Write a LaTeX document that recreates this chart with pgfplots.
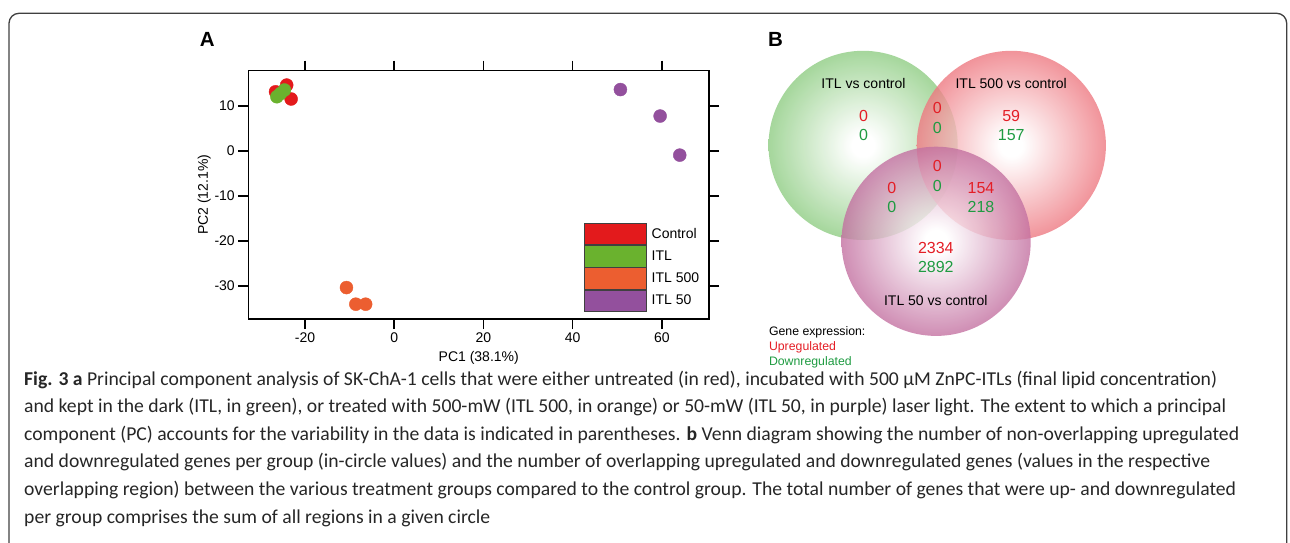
\documentclass[border=0pt]{standalone}
\usepackage{pgfplots}
\pgfplotsset{compat=1.18}
\usepackage{fontspec}
\setmainfont{Liberation Sans}
\newfontfamily\capfont{Carlito}

\definecolor{cctrl}{RGB}{227,26,28}
\definecolor{citl}{RGB}{106,178,46}
\definecolor{cfive}{RGB}{236,94,48}
\definecolor{cfifty}{RGB}{147,80,157}
\definecolor{vgreen}{RGB}{110,190,95}
\definecolor{vred}{RGB}{230,60,72}
\definecolor{vpurple}{RGB}{168,48,118}
\definecolor{txtred}{RGB}{228,30,38}
\definecolor{txtgreen}{RGB}{30,155,65}

\pgfdeclareradialshading{vgsh}{\pgfpoint{0bp}{0bp}}{color(0bp)=(white); color(3bp)=(white); color(35bp)=(vgreen); color(50bp)=(vgreen)}
\pgfdeclareradialshading{vrsh}{\pgfpoint{0bp}{0bp}}{color(0bp)=(white); color(3bp)=(white); color(35bp)=(vred); color(50bp)=(vred)}
\pgfdeclareradialshading{vpsh}{\pgfpoint{0bp}{0bp}}{color(0bp)=(white); color(3bp)=(white); color(35bp)=(vpurple); color(50bp)=(vpurple)}

\begin{document}
\begin{tikzpicture}
\useasboundingbox (0pt,0pt) rectangle (1290pt,542pt);

% frame
\draw[line width=1.3pt, black!75, rounded corners=10pt] (9pt,-20pt) -- (9pt,528.7pt) -- (1286.7pt,528.7pt) -- (1286.7pt,-20pt);

% panel A
\begin{axis}[
  at={(248.3pt,223pt)}, anchor=south west,
  scale only axis, width=460.9pt, height=248.3pt,
  xmin=-32.7, xmax=70.6, ymin=-37.4, ymax=17.9,
  xtick={-20,0,20,40,60}, ytick={-30,-20,-10,0,10},
  tick align=outside, major tick length=10pt,
  every tick/.style={black, line width=1.5pt},
  axis line style={line width=1.6pt},
  tick label style={font=\fontsize{14}{16}\selectfont},
  /pgf/number format/assume math mode=true,
  xlabel={PC1 (38.1\%)}, ylabel={PC2 (12.1\%)},
  label style={font=\fontsize{14}{16}\selectfont},
  xlabel style={at={(axis description cs:0.5,-0.158)}, anchor=center},
  ylabel style={at={(axis description cs:-0.0955,0.5)}, anchor=center},
  legend style={at={(axis description cs:0.728,0.0294)}, anchor=south west,
    draw=none, fill=none, inner sep=0pt, outer sep=0pt, row sep=0pt, column sep=5pt,
    font=\fontsize{14}{16}\selectfont, nodes={inner sep=0pt}},
  legend cell align=left,
]
\addplot[only marks, mark=*, mark size=6.5pt, color=cctrl,
  legend image code/.code={\draw[draw=black!75, line width=0.8pt, fill=cctrl] (0pt,-10.67pt) rectangle (62pt,10.67pt);}]
  coordinates {(-24.1,14.7) (-23.1,11.6) (-26.6,13.2)};
\addlegendentry{Control}
\addplot[only marks, mark=*, mark size=6.5pt, color=citl,
  legend image code/.code={\draw[draw=black!75, line width=0.8pt, fill=citl] (0pt,-10.67pt) rectangle (62pt,10.67pt);}]
  coordinates {(-26.3,12.1) (-25.5,12.8) (-24.6,13.6)};
\addlegendentry{ITL}
\addplot[only marks, mark=*, mark size=6.5pt, color=cfive,
  legend image code/.code={\draw[draw=black!75, line width=0.8pt, fill=cfive] (0pt,-10.67pt) rectangle (62pt,10.67pt);}]
  coordinates {(-10.7,-30.4) (-8.6,-34.1) (-6.4,-34.1)};
\addlegendentry{ITL 500}
\addplot[only marks, mark=*, mark size=6.5pt, color=cfifty,
  legend image code/.code={\draw[draw=black!75, line width=0.8pt, fill=cfifty] (0pt,-10.67pt) rectangle (62pt,10.67pt);}]
  coordinates {(50.7,13.7) (59.6,7.8) (64.0,-0.9)};
\addlegendentry{ITL 50}
\end{axis}

% panel B (hidden axis, 1 unit = 1pt)
\begin{axis}[
  at={(0pt,0pt)}, anchor=south west,
  scale only axis, width=1290pt, height=542pt,
  xmin=0, xmax=1290, ymin=0, ymax=542,
  hide axis, clip=false,
]
\shade[shading=vgsh, opacity=0.9] (axis cs:863.1,396.6) circle[radius=94.6];
\shade[shading=vrsh, opacity=0.8] (axis cs:1011.3,396.6) circle[radius=94.6];
\shade[shading=vpsh, opacity=0.8] (axis cs:936.1,300.7) circle[radius=94.6];
\end{axis}

\begin{scope}[every node/.style={inner sep=0pt}]
\node[anchor=west, font=\bfseries\fontsize{20.5}{24}\selectfont] at (199.6pt,503pt) {A};
\node[anchor=west, font=\bfseries\fontsize{20.5}{24}\selectfont] at (768pt,503pt) {B};

\node[font=\fontsize{14}{16}\selectfont] at (863.5pt,458.7pt) {ITL vs control};
\node[font=\fontsize{14}{16}\selectfont] at (1011.2pt,458.7pt) {ITL 500 vs control};
\node[font=\fontsize{14}{16}\selectfont] at (935.8pt,242pt) {ITL 50 vs control};

\begin{scope}[every node/.append style={font=\fontsize{16}{18}\selectfont}]
\node[txtred] at (863.5pt,426pt) {0};
\node[txtgreen] at (863.5pt,406.7pt) {0};
\node[txtred] at (1011.2pt,426pt) {59};
\node[txtgreen] at (1011.2pt,406.7pt) {157};
\node[txtred] at (937.2pt,433.7pt) {0};
\node[txtgreen] at (937.2pt,414.3pt) {0};
\node[txtred] at (937.2pt,376pt) {0};
\node[txtgreen] at (937.2pt,356.3pt) {0};
\node[txtred] at (891.9pt,354.3pt) {0};
\node[txtgreen] at (891.9pt,334.7pt) {0};
\node[txtred] at (981pt,354.3pt) {154};
\node[txtgreen] at (981pt,334.7pt) {218};
\node[txtred] at (935.8pt,293.7pt) {2334};
\node[txtgreen] at (935.8pt,274.7pt) {2892};
\end{scope}

\node[anchor=west, font=\fontsize{12.3}{14}\selectfont] at (768.8pt,209.7pt) {Gene expression:};
\node[anchor=west, font=\fontsize{12.3}{14}\selectfont, txtred] at (768.8pt,195pt) {Upregulated};
\node[anchor=west, font=\fontsize{12.3}{14}\selectfont, txtgreen] at (768.8pt,180pt) {Downregulated};

\begin{scope}[every node/.append style={anchor=base west, font=\capfont\fontsize{19.65}{23}\selectfont, text=black!85}]
\node at (24pt,157pt) {\textbf{Fig. 3 a} Principal component analysis of SK-ChA-1 cells that were either untreated (in red), incubated with 500 μM ZnPC-ITLs (final lipid concentration)};
\node at (24pt,129.4pt) {and kept in the dark (ITL, in green), or treated with 500-mW (ITL 500, in orange) or 50-mW (ITL 50, in purple) laser light. The extent to which a principal};
\node at (24pt,101.8pt) {component (PC) accounts for the variability in the data is indicated in parentheses. \textbf{b} Venn diagram showing the number of non-overlapping upregulated};
\node at (24pt,74.2pt) {and downregulated genes per group (in-circle values) and the number of overlapping upregulated and downregulated genes (values in the respective};
\node at (24pt,46.6pt) {overlapping region) between the various treatment groups compared to the control group. The total number of genes that were up- and downregulated};
\node at (24pt,19pt) {per group comprises the sum of all regions in a given circle};
\end{scope}
\end{scope}
\end{tikzpicture}
\end{document}
